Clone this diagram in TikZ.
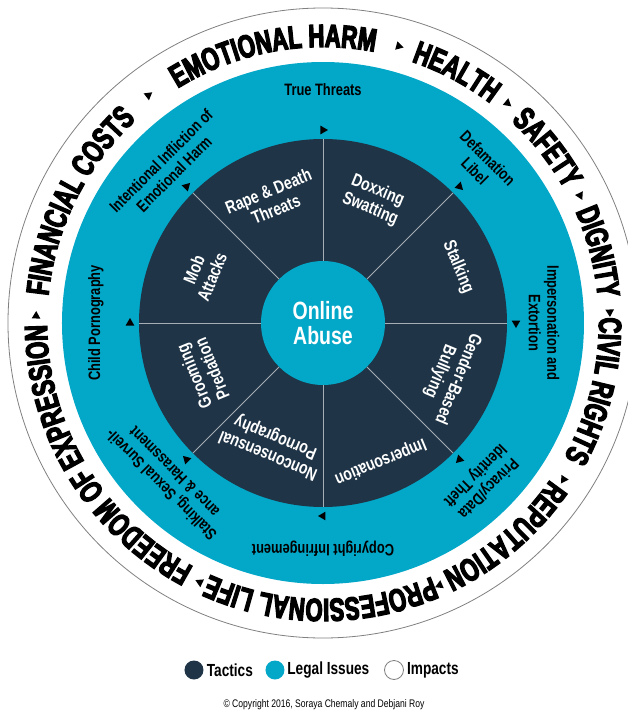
\documentclass[tikz,border=0pt]{standalone}
\usepackage{fontspec}
\setmainfont{Liberation Sans}
\newfontfamily\condfont{Liberation Sans}[FakeStretch=0.78]
\newfontfamily\ringfont{Liberation Sans}[FakeStretch=0.69,FakeBold=4]
\usetikzlibrary{decorations.text,shapes.geometric,positioning}

\definecolor{tacticblue}{HTML}{1F3446}
\definecolor{legalblue}{HTML}{03A7C8}

\tikzset{
  tactic/.style={text=white, align=center, inner sep=0pt,
    font=\condfont\bfseries\fontsize{18}{19.5}\selectfont},
  legal/.style={text=black, align=center, inner sep=0pt,
    font=\condfont\bfseries\fontsize{16.5}{18.5}\selectfont},
  ringtri/.style={regular polygon, regular polygon sides=3, fill=black,
    inner sep=0pt, minimum size=10pt},
  impact/.style={decorate, decoration={text along path, text align=center,
    text={|\ringfont\bfseries\fontsize{32}{32}\selectfont|#1}}},
  keydot/.style={circle, minimum size=19pt, inner sep=0pt},
  keytext/.style={inner sep=0pt, font=\condfont\bfseries\fontsize{17.5}{18}\selectfont},
}

% one impact, set clockwise round the outer ring
\newcommand\impactword[2]{%
  \path[impact={#2}] (#1+60:276) arc[start angle=#1+60, end angle=#1-60, radius=276];}

\begin{document}
\begin{tikzpicture}[x=1pt,y=1pt]
  \clip (-323,-390) rectangle (305,323);

  % rings
  \draw[gray, line width=0.8pt, fill=white] (0,0) circle[radius=315];
  \fill[legalblue] (0,0) circle[radius=261];
  \fill[tacticblue] (0,0) circle[radius=184];
  \node[circle, fill=legalblue, minimum size=124pt, inner sep=0pt, text=white,
        align=center, font=\condfont\bfseries\fontsize{25}{25}\selectfont]
        (abuse) at (0,0) {Online\\Abuse};
  \foreach \a in {0,45,...,315}
    \draw[white!60!tacticblue, line width=0.8pt] (abuse.\a) -- (\a:184);

  % tactics
  \node[tactic, rotate=22.5]   (rapedeath)     at (112.5:133) {Rape \& Death\\Threats};
  \node[tactic, rotate=-22.5]  (doxxing)       at (67.5:133)  {Doxxing\\Swatting};
  \node[tactic, rotate=-67.5]  (stalking)      at (22.5:146)  {Stalking};
  \node[tactic, rotate=-112.5] (genderbased)   at (-22.5:136) {Gender-Based\\Bullying};
  \node[tactic, rotate=-157.5] (impersonation) at (-67.5:150) {Impersonation};
  \node[tactic, rotate=157.5]  (nonconsensual) at (-112.5:133) {Nonconsensual\\Pornography};
  \node[tactic, rotate=112.5]  (grooming)      at (202.5:130) {Grooming\\Predation};
  \node[tactic, rotate=67.5]   (mob)           at (157.5:130) {Mob\\Attacks};

  % legal issues
  \node[legal]              (truethreats)  at (90:233)  {True Threats};
  \node[legal, rotate=-45]  (defamation)   at (45:224)  {Defamation\\Libel};
  \node[legal, rotate=-90]  (extortion)    at (0:221)   {Impersonation and\\Extortion};
  \node[legal, rotate=-135] (privacy)      at (-45:224) {Privacy/Data\\Identity Theft};
  \node[legal, rotate=180]  (infringement) at (-90:226) {Copyright Infringement};
  \node[legal, rotate=135]  (surveillance) at (225:220) {Stalking, Sexual Surveil-\\ance \& Harassment};
  \node[legal, rotate=90]   (childporn)    at (180:227) {Child Pornography};
  \node[legal, rotate=45]   (infliction)   at (135:220) {Intentional Infliction of\\Emotional Harm};
  \foreach \a [count=\i] in {90,45,0,-45,-90,-135,180,135}
    \node[ringtri, rotate=\a-180] (legaltri\i) at (\a:193) {};

  % impacts
  \impactword{211.2}{FREEDOM OF EXPRESSION}
  \impactword{153.5}{FINANCIAL COSTS}
  \impactword{100.5}{EMOTIONAL HARM}
  \impactword{62}{HEALTH}
  \impactword{38}{SAFETY}
  \impactword{14.5}{DIGNITY}
  \impactword{346}{CIVIL RIGHTS}
  \impactword{310.5}{REPUTATION}
  \impactword{269.5}{PROFESSIONAL LIFE}
  \foreach \a [count=\i] in {244.6,178.6,127.5,74.7,50,26.4,2.2,327,294}
    \node[ringtri, rotate=\a-180] (impacttri\i) at (\a:287) {};

  % key
  \node[keydot, fill=tacticblue] (tacticsdot) at (-129,-347) {};
  \node[keytext, right=3pt of tacticsdot] (tactics) {Tactics};
  \node[keydot, fill=legalblue] (legaldot) at (-48,-347) {};
  \node[keytext, right=2.5pt of legaldot] (legal) {Legal Issues};
  \node[keydot, draw=gray, fill=white, line width=0.8pt] (impactsdot) at (71,-347) {};
  \node[keytext, right=3pt of impactsdot] (impacts) {Impacts};

  \node[font=\condfont\fontsize{11}{12}\selectfont] (credit) at (1,-382)
    {\textcopyright{} Copyright 2016, Soraya Chemaly and Debjani Roy};
\end{tikzpicture}
\end{document}
